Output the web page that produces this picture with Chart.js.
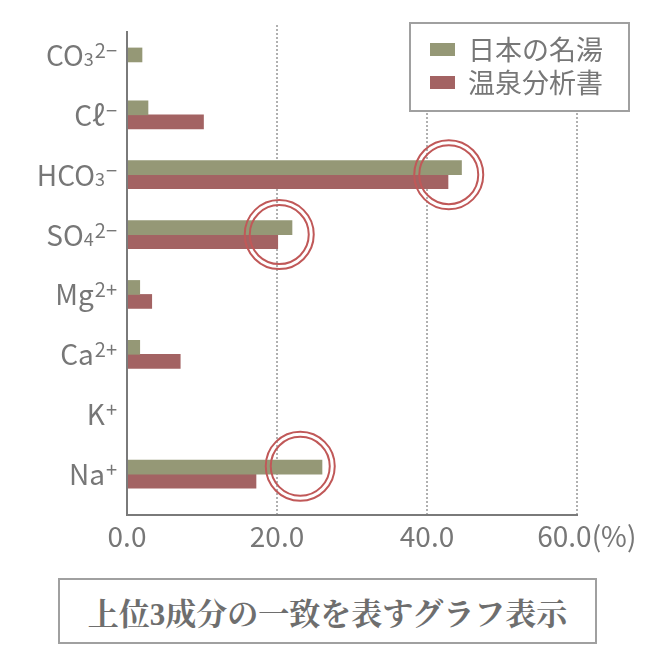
<!DOCTYPE html>
<html>
<head>
<meta charset="utf-8">
<script src="https://cdn.jsdelivr.net/npm/chart.js@4.4.1/dist/chart.umd.min.js"></script>
<style>
body { margin: 0; background: #fff; }
#wrap { position: relative; width: 654px; height: 666px; }
#note {
  position: absolute; left: 58px; top: 578px; width: 539px; height: 66px;
  box-sizing: border-box; border: 2px solid #a0a0a0;
  display: flex; align-items: center; justify-content: center;
  font-family: "Liberation Serif", "Noto Serif CJK JP", serif;
  font-weight: bold; font-size: 31px; color: #6e6e6e;
}
</style>
</head>
<body>
<div id="wrap">
  <canvas id="chart" width="654" height="570"></canvas>
  <div id="note">上位3成分の一致を表すグラフ表示</div>
</div>
<script>
const categories = ["CO₃²⁻", "Cℓ⁻", "HCO₃⁻", "SO₄²⁻", "Mg²⁺", "Ca²⁺", "K⁺", "Na⁺"];
const seriesNames = ["日本の名湯", "温泉分析書"];
const meitouValues = [2.0, 2.8, 44.6, 22.0, 1.7, 1.7, 0, 26.0];
const bunsekiValues = [null, 10.2, 42.8, 20.1, 3.3, 7.1, 0, 17.2];
const xTickValues = [0, 20, 40, 60];
const xTickLabels = ["0.0", "20.0", "40.0", "\u2002\u200960.0(%)"];
// top 3 matches, marked with double circles (row index, value)
const circleRows = [2, 3, 6.87];
const circleValues = [42.9, 20.3, 23.1];

const GREEN = "#959876";
const RED = "#a36363";
const TEXT = "#777777";
const FONT = '"Noto Sans CJK JP", "Noto Sans", sans-serif';

// split "HCO₃⁻" into normal / sub / sup runs for drawing
const SUB = "₀₁₂₃₄₅₆₇₈₉";
const SUP = "⁰¹²³⁴⁵⁶⁷⁸⁹";
function splitLabel(str) {
  const parts = [];
  for (const ch of str) {
    let kind = "base", c = ch;
    if (SUB.includes(ch)) { kind = "sub"; c = String(SUB.indexOf(ch)); }
    else if (SUP.includes(ch)) { kind = "sup"; c = String(SUP.indexOf(ch)); }
    else if (ch === "⁺") { kind = "sup"; c = "+"; }
    else if (ch === "⁻") { kind = "sup"; c = "−"; }
    const last = parts[parts.length - 1];
    if (last && last.kind === kind) last.text += c;
    else parts.push({ kind, text: c });
  }
  return parts;
}
const runFont = { base: "28px ", sub: "18px ", sup: "20px " };

const extras = {
  id: "extras",
  beforeDatasetsDraw(chart) {
    const ctx = chart.ctx, x = chart.scales.x, area = chart.chartArea;
    ctx.save();
    ctx.strokeStyle = "#b0b0b0";
    ctx.lineWidth = 2;
    ctx.setLineDash([2, 2]);
    xTickValues.slice(1).forEach(v => {
      const px = Math.round(x.getPixelForValue(v));
      ctx.beginPath();
      ctx.moveTo(px, area.top);
      ctx.lineTo(px, area.bottom + 11);
      ctx.stroke();
    });
    ctx.restore();
  },
  afterDatasetsDraw(chart) {
    const ctx = chart.ctx, x = chart.scales.x, y = chart.scales.y, area = chart.chartArea;
    ctx.save();
    // axis lines
    ctx.strokeStyle = "#7a7a7a";
    ctx.lineWidth = 2;
    ctx.beginPath();
    ctx.moveTo(area.left, area.top + 6);
    ctx.lineTo(area.left, area.bottom + 11);
    ctx.lineTo(area.right + 1, area.bottom + 11);
    ctx.stroke();
    // double circles
    ctx.strokeStyle = "#c05858";
    ctx.lineWidth = 2;
    circleRows.forEach((row, i) => {
      const cx = x.getPixelForValue(circleValues[i]);
      const cy = y.getPixelForValue(row);
      [34.5, 29.5].forEach(r => {
        ctx.beginPath();
        ctx.arc(cx, cy, r, 0, Math.PI * 2);
        ctx.stroke();
      });
    });
    // category labels with sub/superscripts
    ctx.fillStyle = TEXT;
    ctx.textBaseline = "alphabetic";
    ctx.textAlign = "left";
    categories.forEach((label, i) => {
      const cy = y.getPixelForValue(i);
      const parts = splitLabel(label);
      let w = 0;
      parts.forEach(p => {
        ctx.font = runFont[p.kind] + FONT;
        p.w = ctx.measureText(p.text).width;
        w += p.w + (p.kind === "sup" ? 1 : 0);
      });
      let px = area.left - 10 - w;
      parts.forEach(p => {
        ctx.font = runFont[p.kind] + FONT;
        if (p.kind === "sup") px += 1;
        const by = p.kind === "sup" ? cy + 3 : cy + 11;
        ctx.fillText(p.text, px, by);
        px += p.w;
      });
    });
    ctx.restore();
  },
  afterDraw(chart) {
    const ctx = chart.ctx;
    const colors = [GREEN, RED];
    ctx.save();
    ctx.fillStyle = "#fff";
    ctx.fillRect(410, 23, 219, 88);
    ctx.strokeStyle = "#a0a0a0";
    ctx.lineWidth = 2;
    ctx.strokeRect(410, 23, 219, 88);
    ctx.font = "27px " + FONT;
    ctx.textBaseline = "middle";
    seriesNames.forEach((name, i) => {
      const cy = 50 + i * 33;
      ctx.fillStyle = colors[i];
      ctx.fillRect(430, cy - 7, 25, 13);
      ctx.fillStyle = TEXT;
      ctx.fillText(name, 468, cy);
    });
    ctx.restore();
  }
};

new Chart(document.getElementById("chart").getContext("2d"), {
  type: "bar",
  data: {
    labels: categories,
    datasets: [
      { label: seriesNames[0], data: meitouValues, backgroundColor: GREEN },
      { label: seriesNames[1], data: bunsekiValues, backgroundColor: RED }
    ]
  },
  options: {
    indexAxis: "y",
    responsive: false,
    animation: false,
    devicePixelRatio: 1,
    barThickness: 14,
    skipNull: true,
    layout: { padding: { top: 25, right: 77, left: 0, bottom: 0 } },
    plugins: { legend: { display: false }, tooltip: { enabled: false } },
    scales: {
      x: {
        min: 0,
        max: 60,
        afterBuildTicks: s => { s.ticks = xTickValues.map(v => ({ value: v })); },
        afterFit: s => { s.height = 66; },
        grid: { display: false, drawTicks: false },
        border: { display: false },
        ticks: {
          padding: 16,
          color: TEXT,
          font: { family: FONT, size: 28 },
          maxRotation: 0,
          callback: v => xTickLabels[xTickValues.indexOf(v)]
        }
      },
      y: {
        afterFit: s => { s.width = 127; },
        grid: { display: false, drawTicks: false },
        border: { display: false },
        ticks: { display: false }
      }
    }
  },
  plugins: [extras]
});
</script>
</body>
</html>
